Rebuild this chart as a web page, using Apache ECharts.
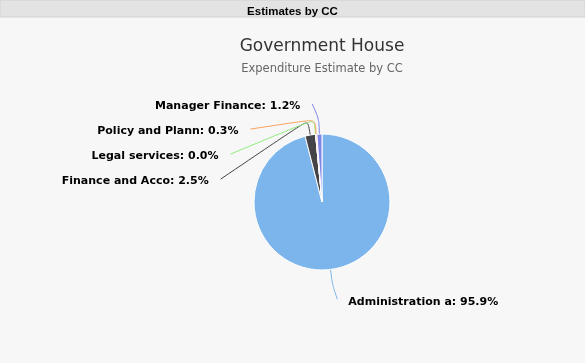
<!DOCTYPE html>
<html lang="en" style="height: 100%">

<head>
  <meta charset="utf-8">
  <style>
    html,
    body {
      margin: 0;
      padding: 0;
      width: 100%;
      height: 100%;
      overflow: hidden;
      background: #f7f7f7;
    }
  </style>
</head>

<body>
  <div id="container" style="height: 100%;width: 100%;"></div>

  <script type="text/javascript" src="https://cdn.jsdelivr.net/npm/echarts@6/dist/echarts.min.js"></script>
  <script type="text/javascript">

    var dom = document.getElementById('container');
    var myChart = echarts.init(dom, null, {
      renderer: 'canvas'
    });

    // slice names and their shares (%)
    let categories = ['Administration a', 'Finance and Acco', 'Legal services', 'Policy and Plann', 'Manager Finance'];
    let shares = [95.9, 2.5, 0.0, 0.3, 1.2];
    let color = ['#7cb5ec', '#434348', '#90ed7d', '#f7a35c', '#8085e9'];

    let pieData = categories.map((name, i) => ({ name: name, value: shares[i] }));

    // pie geometry
    const cx = 322, cy = 202, r = 68;
    const distance = 30;      // label distance from the pie edge
    const slot = 25;          // vertical space per label
    const R = r + distance;

    // highcharts-like label placement: labels on each side are stacked in slots
    // and x follows the circle of radius R
    const total = shares.reduce((a, b) => a + b, 0);
    let cum = 0;
    let items = shares.map((v, i) => {
      const mid = (cum + v / 2) / total * Math.PI * 2;
      cum += v;
      return {
        i: i,
        mid: mid,
        left: Math.sin(mid) < 0,
        y0: cy - R * Math.cos(mid)
      };
    });
    let placed = {};
    [true, false].forEach(side => {
      let list = items.filter(d => d.left === side).sort((a, b) => a.y0 - b.y0);
      let last = -Infinity;
      list.forEach(d => {
        let y = Math.max(d.y0, last + slot);
        last = y;
        const dy = Math.min(Math.abs(y - cy), R);
        const sign = side ? -1 : 1;
        const ax = cx + sign * (Math.sqrt(R * R - dy * dy) + (side ? 6 : 3));
        placed[d.i] = {
          anchor: [ax, y],
          edge: [cx + r * Math.sin(d.mid), cy - r * Math.cos(d.mid)],
          brk: [cx + (r + distance / 2) * Math.sin(d.mid), cy - (r + distance / 2) * Math.cos(d.mid)],
          left: side
        };
      });
    });

    var option = {
      backgroundColor: '#f7f7f7',
      color: color,
      graphic: [{
        type: 'rect',
        shape: { x: 0, y: 0, width: 585, height: 17 },
        style: { fill: '#e3e3e3', stroke: '#d2d2d2', lineWidth: 1 },
        silent: true
      }],
      title: [{
        text: 'Estimates by CC',
        left: 'center',
        top: 1,
        textStyle: {
          fontFamily: 'Liberation Sans',
          fontSize: 11.5,
          fontWeight: 'bold',
          color: '#000'
        }
      }, {
        text: 'Government House',
        subtext: 'Expenditure Estimate by CC',
        left: 317,
        textAlign: 'center',
        top: 33,
        itemGap: 8,
        textStyle: {
          fontFamily: 'DejaVu Sans',
          fontSize: 17,
          fontWeight: 'normal',
          color: '#333'
        },
        subtextStyle: {
          fontFamily: 'DejaVu Sans',
          fontSize: 11.5,
          color: '#666'
        }
      }],
      series: [{
        type: 'pie',
        center: [cx, cy],
        radius: r,
        startAngle: 90,
        clockwise: true,
        avoidLabelOverlap: false,
        minShowLabelAngle: 0,
        itemStyle: {
          borderColor: '#fff',
          borderWidth: 1
        },
        label: {
          show: true,
          position: 'outside',
          formatter: p => p.name + ': ' + p.value.toFixed(1) + '%',
          fontFamily: 'DejaVu Sans',
          fontSize: 11,
          fontWeight: 'bold',
          color: '#000'
        },
        labelLine: {
          show: true,
          length: 15,
          length2: 15,
          smooth: 0.25,
          lineStyle: { width: 1 }
        },
        labelLayout: function (params) {
          const p = placed[params.dataIndex];
          if (!p) return {};
          const gap = p.left ? 12 : 11;
          return {
            x: p.anchor[0] + (p.left ? -gap : gap),
            y: p.anchor[1] + (p.left ? 2 : 3),
            align: p.left ? 'right' : 'left',
            verticalAlign: 'middle',
            labelLinePoints: [p.edge, p.brk, p.anchor]
          };
        },
        emphasis: { disabled: true },
        data: pieData
      }]
    };

    myChart.setOption(option);

    window.addEventListener('resize', myChart.resize);

  </script>
</body>

</html>
